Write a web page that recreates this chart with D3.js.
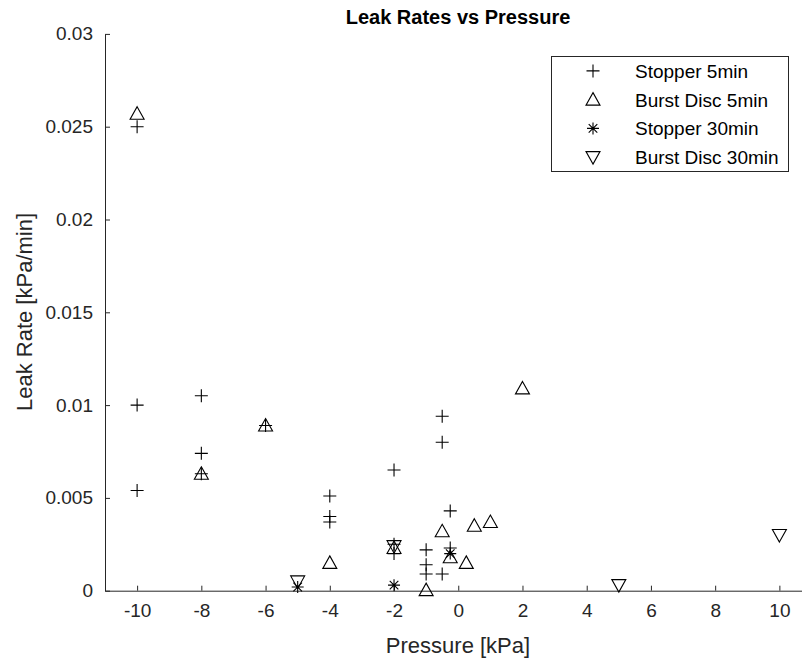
<!DOCTYPE html>
<html>
<head>
<meta charset="utf-8">
<script src="https://cdn.jsdelivr.net/npm/d3@7"></script>
<style>
  body { margin: 0; background: #fff; }
  svg { display: block; font-family: "Liberation Sans", Arial, sans-serif; }
</style>
</head>
<body>
<svg id="chart" width="802" height="664"></svg>
<script>
// data
var stopper5P   = [-10, -10, -10, -8, -8, -8, -6, -4, -4, -4, -2, -2, -2, -1, -1, -1, -0.5, -0.5, -0.5, -0.25, -0.25];
var stopper5R   = [0.0250, 0.0100, 0.0054, 0.0105, 0.0074, 0.0063, 0.0089, 0.0051, 0.0040, 0.0037, 0.0065, 0.0025, 0.0020, 0.0022, 0.0014, 0.0009, 0.0094, 0.0080, 0.0009, 0.0043, 0.0023];
var burst5P     = [-10, -8, -6, -4, -2, -1, -0.5, -0.25, 0.25, 0.5, 1, 2];
var burst5R     = [0.0257, 0.0063, 0.0089, 0.0015, 0.0023, 0.00003, 0.0032, 0.0018, 0.0015, 0.0035, 0.0037, 0.0109];
var stopper30P  = [-5, -2, -0.25];
var stopper30R  = [0.0002, 0.0003, 0.0020];
var burst30P    = [-5, -2, 5, 10];
var burst30R    = [0.0005, 0.0024, 0.0003, 0.0030];

var seriesNames = ["Stopper 5min", "Burst Disc 5min", "Stopper 30min", "Burst Disc 30min"];
var xTicks = [-10, -8, -6, -4, -2, 0, 2, 4, 6, 8, 10];
var yTicks = [0, 0.005, 0.01, 0.015, 0.02, 0.025, 0.03];

var axisCol = "#262626";

var svg = d3.select("#chart");

var x = d3.scaleLinear().domain([-11, 11]).range([105, 811.5]);
var y = d3.scaleLinear().domain([0, 0.03]).range([590.7, 33.9]);

// marker shapes (relative to point)
var shapes = {
    plus: "M-6.5,0H6.5M0,-6.5V6.5",
    up: "M0,-7L7,5.5L-7,5.5Z",
    down: "M0,7L7,-5.5L-7,-5.5Z",
    star: "M-6,0H6M0,-6V6M-4.3,-4.3L4.3,4.3M-4.3,4.3L4.3,-4.3"
};
var series = [
    {name: seriesNames[0], p: stopper5P, r: stopper5R, shape: "plus"},
    {name: seriesNames[1], p: burst5P, r: burst5R, shape: "up"},
    {name: seriesNames[2], p: stopper30P, r: stopper30R, shape: "star"},
    {name: seriesNames[3], p: burst30P, r: burst30R, shape: "down"}
];

// x axis
var xAxis = svg.append("g")
    .attr("transform", "translate(0," + y(0) + ")")
    .call(d3.axisBottom(x).tickValues(xTicks).tickSizeInner(-5).tickSizeOuter(0).tickPadding(13)
        .tickFormat(function(d) { return d; }));
xAxis.select(".domain").attr("stroke", axisCol);
xAxis.selectAll(".tick line").attr("stroke", axisCol);
xAxis.selectAll("text").attr("font-size", 19).attr("fill", axisCol);

// y axis
var yAxis = svg.append("g")
    .attr("transform", "translate(" + x(-11) + ",0)")
    .call(d3.axisLeft(y).tickValues(yTicks).tickSizeInner(-5).tickSizeOuter(0).tickPadding(12)
        .tickFormat(function(d) { return d3.format("~g")(d); }));
yAxis.select(".domain").attr("stroke", axisCol);
yAxis.selectAll(".tick line").attr("stroke", axisCol);
yAxis.selectAll("text").attr("font-size", 19).attr("fill", axisCol);

// points
series.forEach(function(s) {
    svg.append("g").selectAll("path")
        .data(s.p.map(function(p, i) { return {p: p, r: s.r[i]}; }))
        .enter().append("path")
            .attr("d", shapes[s.shape])
            .attr("transform", function(d) { return "translate(" + x(d.p) + "," + y(d.r) + ")"; })
            .attr("fill", "none")
            .attr("stroke", "#000")
            .attr("stroke-width", 1.1);
});

// title and labels
svg.append("text")
    .attr("x", 458).attr("y", 24)
    .attr("text-anchor", "middle")
    .attr("font-size", 20)
    .attr("font-weight", "bold")
    .attr("fill", "#000")
    .text("Leak Rates vs Pressure");

svg.append("text")
    .attr("x", 458).attr("y", 653)
    .attr("text-anchor", "middle")
    .attr("font-size", 22)
    .attr("fill", axisCol)
    .text("Pressure [kPa]");

svg.append("text")
    .attr("transform", "translate(32,312) rotate(-90)")
    .attr("text-anchor", "middle")
    .attr("font-size", 22)
    .attr("fill", axisCol)
    .text("Leak Rate [kPa/min]");

// legend
var legend = svg.append("g");
legend.append("rect")
    .attr("x", 551.5).attr("y", 56.5)
    .attr("width", 237).attr("height", 115)
    .attr("fill", "#fff")
    .attr("stroke", axisCol)
    .attr("stroke-width", 1);

series.forEach(function(s, i) {
    var ly = 56.5 + 115 * (i + 0.5) / 4;
    legend.append("path")
        .attr("d", shapes[s.shape])
        .attr("transform", "translate(593," + ly + ")")
        .attr("fill", "none")
        .attr("stroke", "#000")
        .attr("stroke-width", 1.1);
    legend.append("text")
        .attr("x", 635).attr("y", ly + 7)
        .attr("font-size", 19)
        .attr("fill", "#000")
        .text(s.name);
});
</script>
</body>
</html>
